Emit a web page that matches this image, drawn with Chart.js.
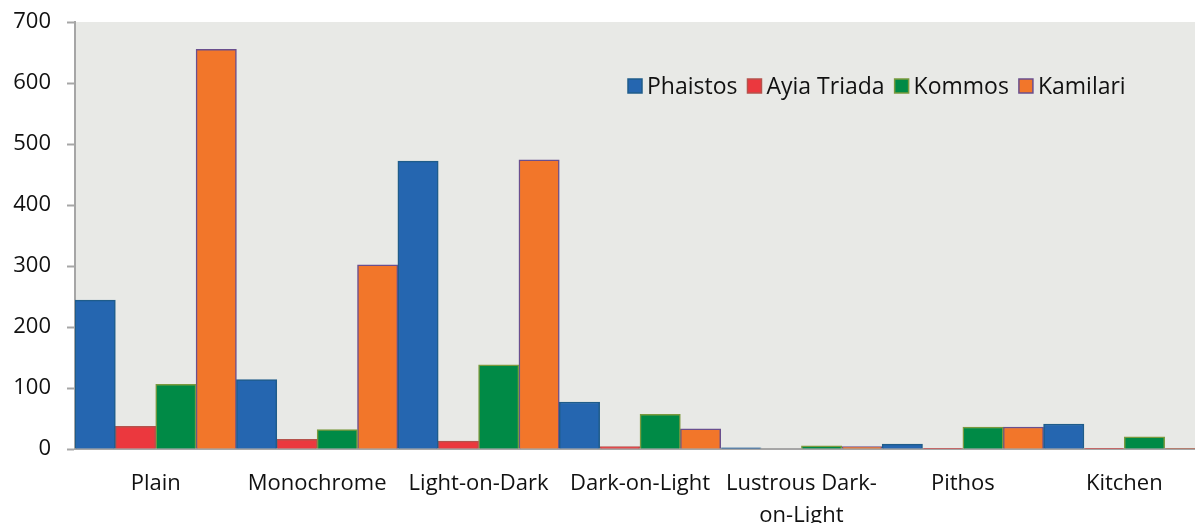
<!DOCTYPE html>
<html>
<head>
<meta charset="utf-8">
<script src="https://cdn.jsdelivr.net/npm/chart.js@4.4.0/dist/chart.umd.min.js"></script>
<style>
	body { margin: 0; overflow: hidden; background: #fff; }
	#wrap { width: 1205px; height: 523px; }
</style>
</head>
<body>
<div id="wrap"><canvas id="barChart"></canvas></div>
<script>
var categories = ["Plain", "Monochrome", "Light-on-Dark", "Dark-on-Light", ["Lustrous Dark-", "on-Light"], "Pithos", "Kitchen"];
var phaistos   = [244, 114, 472, 77, 2, 8, 41];
var ayiaTriada = [37, 16, 13, 4, 0, 1, 1];
var kommos     = [106, 32, 138, 57, 5, 36, 20];
var kamilari   = [655, 302, 474, 33, 4, 36, 1];
var yTicks = [0, 100, 200, 300, 400, 500, 600, 700];

// grey plot background + legend drawn inside the plot
var plotBack = {
	id: 'plotBack',
	beforeDraw: function(chart){
		var a = chart.chartArea, ctx = chart.ctx;
		ctx.save();
		ctx.fillStyle = '#e8e9e6';
		ctx.fillRect(a.left, a.top, a.right - a.left, a.bottom - a.top);
		ctx.restore();
	},
	afterDraw: function(chart){
		var ctx = chart.ctx;
		var x = 628, y = 86;
		ctx.save();
		ctx.font = '23px "Open Sans"';
		ctx.textBaseline = 'middle';
		chart.data.datasets.forEach(function(ds){
			ctx.fillStyle = ds.backgroundColor;
			ctx.fillRect(x, y - 7, 14, 14);
			ctx.strokeStyle = ds.borderColor;
			ctx.lineWidth = 1.5;
			ctx.strokeRect(x, y - 7, 14, 14);
			ctx.fillStyle = '#111';
			ctx.fillText(ds.label, x + 19, y + 1);
			x += 19 + ctx.measureText(ds.label).width + 10;
		});
		ctx.restore();
	}
};

const CHART = document.getElementById("barChart");
let barChart = new Chart(CHART, {
	type: 'bar',
	data: {
		labels: categories,
		datasets: [
			{ label: "Phaistos", data: phaistos, backgroundColor: "#2566b0", borderColor: "#1f5c8a", borderWidth: 1.5 },
			{ label: "Ayia Triada", data: ayiaTriada, backgroundColor: "#eb383e", borderColor: "#b5524c", borderWidth: 1.5 },
			{ label: "Kommos", data: kommos, backgroundColor: "#008a46", borderColor: "#7a9a3e", borderWidth: 1.5 },
			{ label: "Kamilari", data: kamilari, backgroundColor: "#f2762a", borderColor: "#6a4f8e", borderWidth: 1.5 }
		]
	},
	options: {
		responsive: true,
		maintainAspectRatio: false,
		animation: false,
		layout: { padding: { top: 22, right: 0, left: 0, bottom: 0 } },
		datasets: { bar: { categoryPercentage: 1, barPercentage: 1 } },
		plugins: {
			legend: { display: false },
			tooltip: { enabled: false }
		},
		scales: {
			x: {
				grid: { display: false },
				border: { color: '#a6a6a6', width: 2 },
				ticks: { color: '#111', font: { family: 'Open Sans', size: 22, lineHeight: 1.45 }, padding: 11, maxRotation: 0, autoSkip: false },
				afterFit: function(scale){ scale.height = 74; }
			},
			y: {
				min: 0,
				max: 700,
				afterBuildTicks: function(scale){
					scale.ticks = yTicks.map(function(v){ return { value: v }; });
				},
				grid: { drawOnChartArea: false, color: '#a6a6a6', tickLength: 8, tickWidth: 2 },
				border: { color: '#a6a6a6', width: 2 },
				ticks: { color: '#111', font: { family: 'Open Sans', size: 22 }, padding: 16 },
				afterFit: function(scale){ scale.width = 75; scale.paddingTop = 0; scale.paddingBottom = 0; }
			}
		}
	},
	plugins: [plotBack]
});
</script>
</body>
</html>
